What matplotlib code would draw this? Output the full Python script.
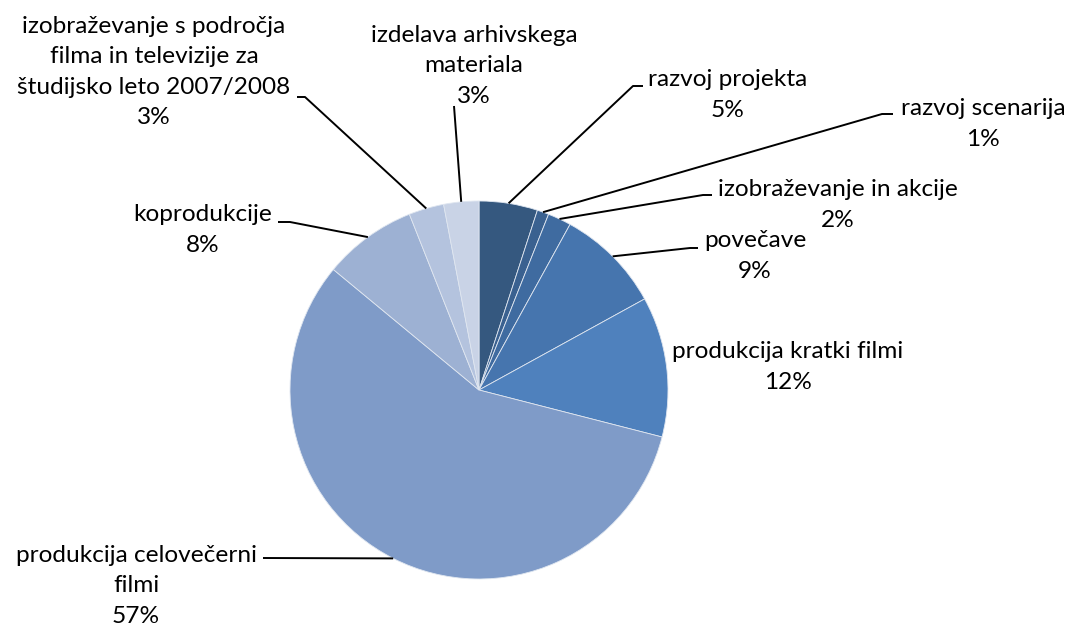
import numpy as np
import matplotlib
matplotlib.use("Agg")
import matplotlib.pyplot as plt

# podatki (delez v %)
kategorije = [
    "razvoj projekta",
    "razvoj scenarija",
    "izobraževanje in akcije",
    "povečave",
    "produkcija kratki filmi",
    "produkcija celovečerni\nfilmi",
    "koprodukcije",
    "izobraževanje s področja\nfilma in televizije za\nštudijsko leto 2007/2008",
    "izdelava arhivskega\nmateriala",
]
deleži = [5, 1, 2, 9, 12, 57, 8, 3, 3]
barve = ["#35587f", "#3a6190", "#3f6ba0", "#4675ae", "#4f81bd",
         "#7f9bc8", "#9db1d3", "#b4c3de", "#c9d3e6"]

W, H = 1072, 632
CX, CY, R = 479, 390, 189   # pixel koordinate sredisca torte

def Y(py):
    return H - py

# polozaji oznak: (center x, center y, tocka lomljenja, konec vodoravne crte)
oznake = [
    (728, 95, (633, 86), (643, 86)),
    (983, 124, (882, 114), (893, 114)),
    (838, 205, (703, 195), (712, 195)),
    (755, 256, (690, 248), (698, 248)),
    (788, 367, None, None),
    (136, 586, (263, 558), (263, 558)),
    (203, 230, (290, 222), (278, 222)),
    (154, 72, (305, 97), (297, 97)),
    (474, 66, (454, 106), (454, 106)),
]

plt.rcParams['font.family'] = ['Lato', 'DejaVu Sans']

fig = plt.figure(figsize=(W / 100, H / 100), dpi=100)
ax = fig.add_axes([0, 0, 1, 1])

wedges, _ = ax.pie(deleži, colors=barve, startangle=90, counterclock=False,
                   center=(CX, Y(CY)), radius=R,
                   wedgeprops=dict(edgecolor='#dfe6f0', linewidth=0.6))

ax.set_xlim(0, W)
ax.set_ylim(0, H)
ax.set_aspect('equal')
ax.axis('off')

fs = 17.6
for w, ime, vr, (tx, ty, lom, konec) in zip(wedges, kategorije, deleži, oznake):
    ax.text(tx, Y(ty), f"{ime}\n{vr}%", ha='center', va='center',
            fontsize=fs, linespacing=1.56, color='black')
    if lom is None:
        continue
    kot = np.deg2rad((w.theta1 + w.theta2) / 2)
    x0 = CX + R * np.cos(kot)
    y0 = Y(CY) + R * np.sin(kot)
    ax.plot([x0, lom[0], konec[0]], [y0, Y(lom[1]), Y(konec[1])],
            color='black', linewidth=1.4, solid_capstyle='butt')

fig.savefig("out.png", dpi=100, facecolor='white')
